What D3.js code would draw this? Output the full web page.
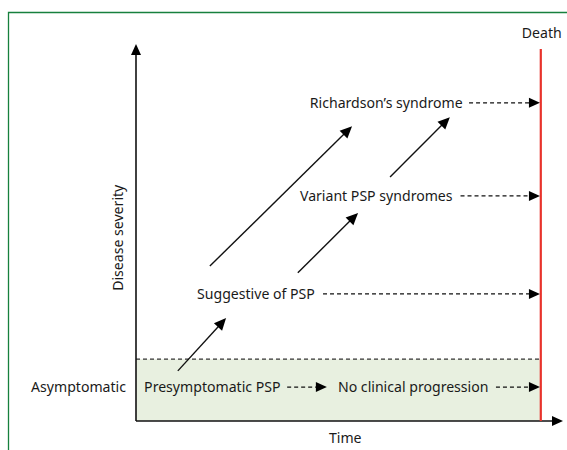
<!DOCTYPE html>
<html><head><meta charset="utf-8">
<script src="https://cdn.jsdelivr.net/npm/d3@7"></script>
<style>body{margin:0;background:#fff}svg{display:block}text{font-family:"Noto Sans",sans-serif;fill:#1a1a1a}</style>
</head><body><svg id="c" width="567" height="450"></svg>
<script>
// ---- data (time / severity on a 0-100 scale) ----
const axisLabels = {x: "Time", y: "Disease severity"};
const asymptomaticLabel = "Asymptomatic";
const asymptomaticThreshold = 16.4;
const deathTime = 94.8;
const deathLabel = "Death";
const stageNames = ["Presymptomatic PSP", "No clinical progression", "Suggestive of PSP", "Variant PSP syndromes", "Richardson\u2019s syndrome"];
const stageTime = [1.9, 47.3, 14.3, 38.4, 40.7];
const stageSeverity = [9.0, 9.0, 33.7, 59.7, 84.4];
// dashed transitions: [start time, end time, severity]
const dashedStart = [35.4, 84.3, 43.8, 76.0, 78.0];
const dashedEnd = [44.7, 94.6, 94.6, 94.6, 94.6];
const dashedSeverity = [9.0, 9.0, 33.7, 59.7, 84.4];
// solid progression arrows
const progT0 = [9.8, 17.3, 37.9, 59.5];
const progS0 = [13.3, 41.1, 39.3, 64.7];
const progT1 = [21.1, 50.6, 52.0, 73.5];
const progS1 = [27.3, 78.2, 55.2, 80.6];

const FS = 14.1;
const svg = d3.select("#c");
const x = d3.scaleLinear().domain([0, 100]).range([136, 563]);
const y = d3.scaleLinear().domain([0, 100]).range([421, 44]);

// frame
svg.append("path").attr("d", "M8.5,450 V12.5 H567").attr("fill", "none").attr("stroke", "#17803d").attr("stroke-width", 1.3);

// asymptomatic band
svg.append("rect").attr("x", x(0)).attr("y", y(asymptomaticThreshold))
  .attr("width", x(deathTime) - x(0)).attr("height", y(0) - y(asymptomaticThreshold))
  .attr("fill", "#e8f0e0");
svg.append("line").attr("x1", x(0)).attr("x2", x(deathTime)).attr("y1", y(asymptomaticThreshold)).attr("y2", y(asymptomaticThreshold))
  .attr("stroke", "#333").attr("stroke-width", 1.2).attr("stroke-dasharray", "4,3");

// arrowhead helper
function head(tx, ty, ang, len, wid) {
  const c = Math.cos(ang), s = Math.sin(ang);
  const bx = tx - c * len, by = ty - s * len;
  const px = -s * wid / 2, py = c * wid / 2;
  return `M${tx},${ty}L${bx + px},${by + py}L${bx - px},${by - py}Z`;
}

// axes
const ax = svg.append("g");
ax.append("line").attr("x1", x(0)).attr("x2", x(100) - 8).attr("y1", y(0)).attr("y2", y(0)).attr("stroke", "#111").attr("stroke-width", 1.6);
ax.append("path").attr("d", head(x(100), y(0), 0, 11, 10)).attr("fill", "#000");
ax.append("line").attr("x1", x(0)).attr("x2", x(0)).attr("y1", y(0)).attr("y2", y(100) + 8).attr("stroke", "#111").attr("stroke-width", 1.6);
ax.append("path").attr("d", head(x(0), y(100), -Math.PI / 2, 11, 10)).attr("fill", "#000");

// death line
svg.append("line").attr("x1", x(deathTime)).attr("x2", x(deathTime)).attr("y1", y(98.7)).attr("y2", y(0))
  .attr("stroke", "#e8332b").attr("stroke-width", 2.2);
svg.append("text").attr("x", x(deathTime) + 1).attr("y", 38).attr("text-anchor", "middle").attr("font-size", FS).text(deathLabel);

// axis labels
svg.append("text").attr("x", x(49)).attr("y", 443).attr("text-anchor", "middle").attr("font-size", FS).text(axisLabels.x);
svg.append("text").attr("transform", `translate(123,${y(48.6)}) rotate(-90)`).attr("text-anchor", "middle").attr("font-size", FS).text(axisLabels.y);
svg.append("text").attr("x", 126).attr("y", y(9.0)).attr("dy", "0.35em").attr("text-anchor", "end").attr("font-size", FS).text(asymptomaticLabel);

// stage labels
svg.selectAll("text.stage").data(stageNames).join("text").attr("class", "stage")
  .attr("x", (d, i) => x(stageTime[i])).attr("y", (d, i) => y(stageSeverity[i])).attr("dy", "0.35em")
  .attr("font-size", FS).text(d => d);

// dashed arrows
dashedStart.forEach((s, i) => {
  const yy = y(dashedSeverity[i]);
  svg.append("line").attr("x1", x(s)).attr("x2", x(dashedEnd[i]) - 9).attr("y1", yy).attr("y2", yy)
    .attr("stroke", "#111").attr("stroke-width", 1.3).attr("stroke-dasharray", "4,3");
  svg.append("path").attr("d", head(x(dashedEnd[i]), yy, 0, 11, 10)).attr("fill", "#000");
});

// solid progression arrows
progT0.forEach((t, i) => {
  const x0 = x(t), y0 = y(progS0[i]), x1 = x(progT1[i]), y1 = y(progS1[i]);
  const ang = Math.atan2(y1 - y0, x1 - x0);
  svg.append("line").attr("x1", x0).attr("y1", y0).attr("x2", x1 - Math.cos(ang) * 8).attr("y2", y1 - Math.sin(ang) * 8)
    .attr("stroke", "#111").attr("stroke-width", 1.4);
  svg.append("path").attr("d", head(x1, y1, ang, 12, 11)).attr("fill", "#000");
});
</script></body></html>
